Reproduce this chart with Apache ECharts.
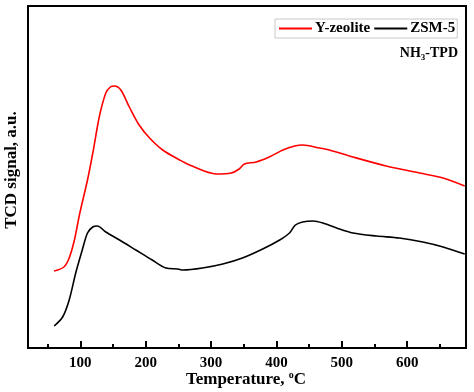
<!DOCTYPE html>
<html>
<head>
<meta charset="utf-8">
<script src="https://cdn.jsdelivr.net/npm/echarts@6/dist/echarts.min.js"></script>
<style>
html,body{margin:0;padding:0;background:#fff;}
#chart{width:474px;height:392px;}
</style>
</head>
<body>
<div id="chart"></div>
<script>
// Temperature (°C) and TCD signal (arbitrary units)
var yZeoliteT = [60, 75, 83, 91, 98, 101, 111, 120, 129, 139, 146, 152, 162, 175, 190, 206, 226, 252, 267, 308, 331, 343, 351, 369, 389, 410, 428, 440, 466, 481, 517, 568, 619, 655, 688];
var yZeoliteS = [77, 81, 90, 108, 131, 140, 168, 198, 231, 255, 261, 262, 258, 241, 223, 210, 198, 188, 183, 174, 175, 179, 184, 186, 191, 198, 202, 203, 200, 198, 191, 182, 175, 170, 162];
var zsm5T = [60, 73, 83, 93, 103, 111, 119, 126, 139, 160, 185, 210, 231, 249, 257, 287, 318, 348, 379, 405, 420, 429, 440, 456, 471, 492, 517, 553, 588, 624, 655, 688];
var zsm5S = [22, 31, 48, 75, 98, 115, 121, 122, 116, 108, 98, 88, 80, 79, 78, 80, 84, 90, 99, 108, 115, 123, 126, 127, 125, 120, 115, 112, 110, 106, 101, 94];
var majorTicks = [100, 200, 300, 400, 500, 600];
var minorTicks = [50, 150, 250, 350, 450, 550, 650];
var seriesNames = ['Y-zeolite', 'ZSM-5'];
var xTitle = 'Temperature, ';
var yTitle = 'TCD signal, a.u.';

function pairs(xs, ys) { return xs.map(function (x, i) { return [x, ys[i]]; }); }

var serif = '"Liberation Serif", "Times New Roman", serif';
var chart = echarts.init(document.getElementById('chart'), null, {renderer: 'canvas'});
chart.setOption({
  animation: false,
  backgroundColor: '#fff',
  grid: {left: 28, right: 8, top: 6, bottom: 44, show: true, borderColor: '#000', borderWidth: 2, backgroundColor: 'transparent'},
  legend: {
    data: seriesNames,
    left: 275, top: 19,
    icon: 'rect', itemWidth: 33, itemHeight: 2, itemGap: 4,
    borderColor: '#c8c8c8', borderWidth: 1, padding: [2, 2, 2, 4],
    textStyle: {fontFamily: serif, fontWeight: 'bold', fontSize: 15, color: '#000', padding: [0, 0, 0, -2]}
  },
  xAxis: [{
    type: 'value', min: 20, max: 690,
    axisLine: {show: true, lineStyle: {color: '#000', width: 2}},
    axisTick: {show: true, inside: true, length: 7, customValues: majorTicks, lineStyle: {color: '#000', width: 2}},
    axisLabel: {customValues: majorTicks, margin: 8, fontFamily: serif, fontWeight: 'bold', fontSize: 15, color: '#000'},
    splitLine: {show: false}
  }, {
    type: 'value', min: 20, max: 690, position: 'bottom',
    axisLine: {show: false},
    axisTick: {show: true, inside: true, length: 4, customValues: minorTicks, lineStyle: {color: '#000', width: 2}},
    axisLabel: {show: false},
    splitLine: {show: false}
  }],
  yAxis: {
    type: 'value', min: 0, max: 342,
    axisLine: {show: false}, axisTick: {show: false}, axisLabel: {show: false}, splitLine: {show: false}
  },
  graphic: [{
    type: 'text', x: 246, y: 380,
    style: {
      text: '{a|' + xTitle + '}{s|o}{a|C}', align: 'center', verticalAlign: 'middle',
      rich: {
        a: {fontFamily: serif, fontWeight: 'bold', fontSize: 17, fill: '#000'},
        s: {fontFamily: serif, fontWeight: 'bold', fontSize: 10, fill: '#000', padding: [0, 0, 10, 0]}
      }
    }
  }, {
    type: 'text', x: 12, y: 170, rotation: Math.PI / 2,
    style: {text: yTitle, align: 'center', verticalAlign: 'middle', fontFamily: serif, fontWeight: 'bold', fontSize: 17, fill: '#000'}
  }, {
    type: 'text', x: 458, y: 53,
    style: {
      text: '{a|NH}{s|3}{a|-TPD}', align: 'right', verticalAlign: 'middle',
      rich: {
        a: {fontFamily: serif, fontWeight: 'bold', fontSize: 14, fill: '#000'},
        s: {fontFamily: serif, fontWeight: 'bold', fontSize: 9, fill: '#000', padding: [9, 0, 0, 0]}
      }
    }
  }],
  series: [{
    name: seriesNames[0], type: 'line', xAxisIndex: 0, data: pairs(yZeoliteT, yZeoliteS),
    showSymbol: false, smooth: 0.3, lineStyle: {color: '#ff0000', width: 1.6}, itemStyle: {color: '#ff0000'}
  }, {
    name: seriesNames[1], type: 'line', xAxisIndex: 0, data: pairs(zsm5T, zsm5S),
    showSymbol: false, smooth: 0.3, lineStyle: {color: '#000', width: 1.6}, itemStyle: {color: '#000'}
  }]
});
</script>
</body>
</html>
